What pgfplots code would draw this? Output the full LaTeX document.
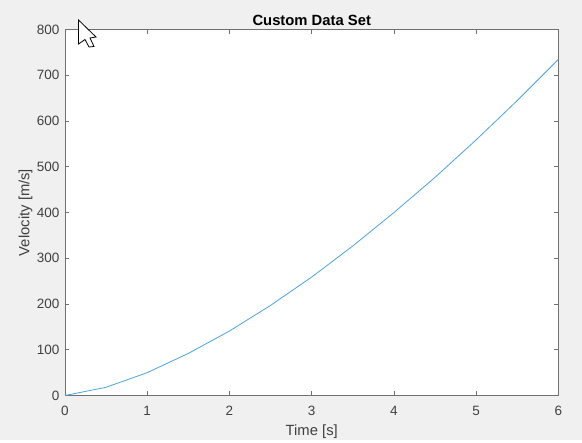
\documentclass[border=0pt]{standalone}
\usepackage{pgfplots}
\pgfplotsset{compat=1.18}
\usepackage{fontspec}
\setmainfont{Liberation Sans}
\definecolor{figbg}{HTML}{F0F0F0}
\definecolor{axcol}{HTML}{707070}
\definecolor{txtcol}{HTML}{404040}
\definecolor{linecol}{HTML}{4FA3DC}
\begin{document}
\begin{tikzpicture}[x=1pt,y=1pt]
\fill[figbg] (0,0) rectangle (582,440);
\begin{axis}[
  at={(65pt,44.5pt)}, anchor=south west,
  scale only axis, width=493.5pt, height=366pt,
  axis background/.style={fill=white},
  xmin=0, xmax=6, ymin=0, ymax=800,
  xtick={0,1,2,3,4,5,6}, ytick={0,100,200,300,400,500,600,700,800},
  axis line style={color=axcol, line width=0.9pt},
  tick style={color=axcol, line width=0.8pt},
  tick align=inside, major tick length=4.5pt,
  xtick pos=both, ytick pos=both,
  /pgf/number format/assume math mode=true,
  tick label style={font=\fontsize{13.5}{15}\selectfont, text=txtcol},
  xticklabel style={yshift=-7pt},
  yticklabel style={xshift=-2pt},
  xlabel={Time [s]}, ylabel={Velocity [m/s]},
  label style={font=\fontsize{14.8}{16}\selectfont, text=txtcol},
  xlabel style={at={(axis description cs:0.5,0)}, anchor=north, yshift=-26pt},
  ylabel style={at={(axis description cs:0,0.5)}, anchor=south, yshift=29pt},
  title={Custom Data Set},
  title style={font=\fontsize{14.8}{16}\selectfont\bfseries, text=black, at={(axis description cs:0.5,1)}, anchor=south, yshift=-6pt},
]
\addplot[color=linecol, line width=0.8pt] coordinates {
(0,0) (0.5,18) (1,50) (1.5,92) (2,141) (2.5,197) (3,259) (3.5,327) (4,400) (4.5,477) (5,559) (5.5,645) (6,735)
};
\end{axis}
\draw[black, line width=0.8pt, fill=white, line join=miter]
 (78.5,420) -- (78.5,396) -- (85,400.5) -- (89,393) -- (94,393.5) -- (90,402) -- (96,403) -- cycle;
\end{tikzpicture}
\end{document}
